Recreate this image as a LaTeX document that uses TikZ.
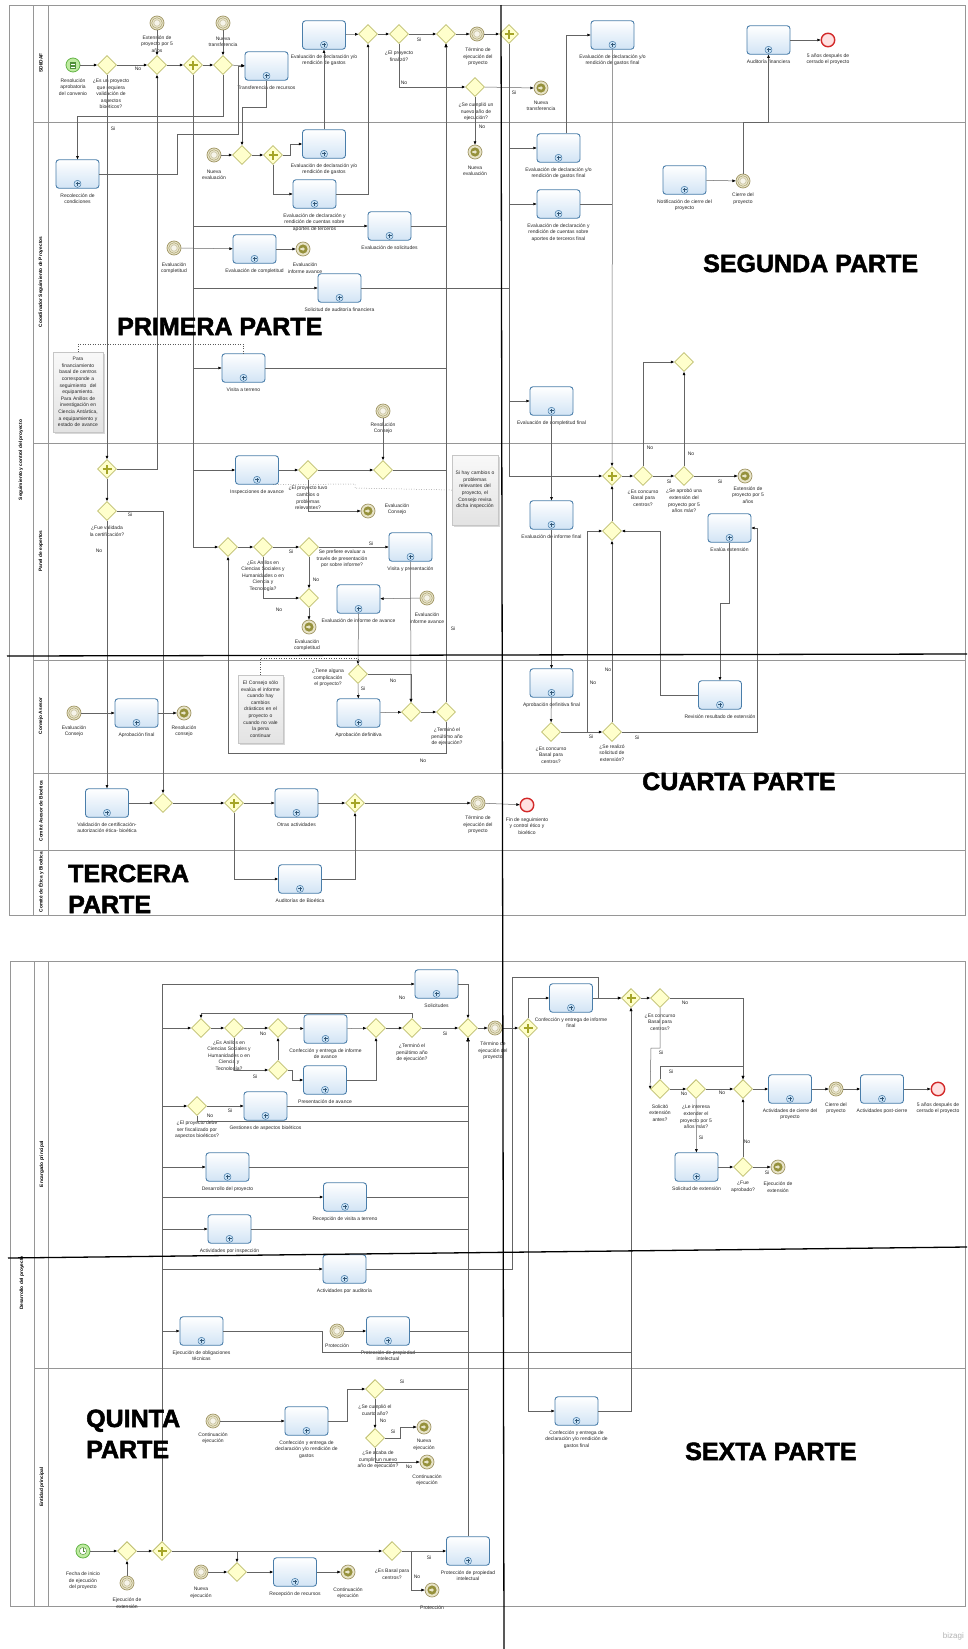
\documentclass[tikz,border=0pt]{standalone}
\usepackage{fontspec}
\setmainfont{Liberation Sans}
\newfontfamily\heavyfont{Liberation Sans}[BoldFeatures={FakeBold=2}]
\usetikzlibrary{shapes.geometric,arrows.meta,calc,shadows}
\definecolor{taskb}{RGB}{74,126,170}
\definecolor{taskf}{RGB}{210,228,245}
\definecolor{markf}{RGB}{200,225,245}
\definecolor{gwb}{RGB}{190,190,110}
\definecolor{gwf}{RGB}{255,255,204}
\definecolor{pgc}{RGB}{165,165,40}
\definecolor{evb}{RGB}{160,150,100}
\definecolor{evf}{RGB}{232,228,200}
\definecolor{evd}{RGB}{150,145,60}
\definecolor{startb}{RGB}{100,180,70}
\definecolor{startf}{RGB}{190,235,160}
\definecolor{endb}{RGB}{210,40,40}
\definecolor{endf}{RGB}{255,225,225}
\definecolor{flowc}{RGB}{100,100,100}
\definecolor{poolc}{RGB}{150,150,150}
\definecolor{lblc}{RGB}{40,40,40}
\newcounter{lbc}
\newcommand\lblfont{\fontsize{5}{6.6}\selectfont}
\newcommand\Lb[3]{\stepcounter{lbc}\node[lbl] (lb\arabic{lbc}) at (#1,#2) {#3};}
\newcommand\Fl[3]{\stepcounter{lbc}\node[flbl] (lb\arabic{lbc}) at (#1,#2) {#3};}
\newcommand\Tk[4]{\node[task] (#1) at (#2,#3) {}; \node[lbl,anchor=north] (#1l) at ($(#1.south)+(0,-4.3pt)$) {#4};}
\newcommand\BigT[3]{\stepcounter{lbc}\node[bigt] (bg\arabic{lbc}) at (#1,#2) {#3};}
\tikzset{
 task/.style={rectangle, rounded corners=3pt, draw=taskb, line width=0.9pt, top color=white, bottom color=taskf, minimum width=43pt, minimum height=28.5pt, inner sep=0pt,
   path picture={\draw[taskb, fill=markf, line width=0.5pt] ($(path picture bounding box.south)+(-3.4pt,1pt)$) rectangle ($(path picture bounding box.south)+(3.4pt,7.8pt)$);
   \draw[taskb!70!black, line width=0.8pt] ($(path picture bounding box.south)+(-2pt,4.4pt)$) -- ++(4pt,0) ($(path picture bounding box.south)+(0,2.4pt)$) -- ++(0,4pt);}},
 gw/.style={diamond, aspect=1, draw=gwb, fill=gwf, line width=0.8pt, minimum width=19pt, minimum height=19pt, inner sep=0pt},
 pgw/.style={gw, path picture={\draw[pgc, line width=1.8pt] ($(path picture bounding box.center)+(-4.5pt,0)$) -- ++(9pt,0) ($(path picture bounding box.center)+(0,-4.5pt)$) -- ++(0,9pt);}},
 startev/.style={circle, draw=startb, fill=startf, line width=0.8pt, minimum size=14pt, inner sep=0pt},
 condstart/.style={startev, path picture={\draw[startb!80!black, fill=white, line width=0.4pt] ($(path picture bounding box.center)+(-2.6pt,-3.2pt)$) rectangle ($(path picture bounding box.center)+(2.6pt,3.2pt)$);
   \foreach \k in {-1.6,0,1.6} {\draw[startb!80!black, line width=0.35pt] ($(path picture bounding box.center)+(-1.7pt,\k pt)$) -- ++(3.4pt,0);}}},
 timerstart/.style={startev, path picture={\draw[startb!80!black, fill=white, line width=0.4pt] (path picture bounding box.center) circle (3.6pt);
   \draw[startb!80!black, line width=0.4pt] (path picture bounding box.center) -- ++(0,2.6pt) (path picture bounding box.center) -- ++(1.8pt,0);}},
 endev/.style={circle, draw=endb, fill=endf, line width=1.4pt, minimum size=13.5pt, inner sep=0pt},
 catchev/.style={circle, draw=evb, fill=evf, line width=0.7pt, minimum size=14pt, inner sep=0pt,
   path picture={\draw[evb, line width=0.4pt] (path picture bounding box.center) circle (5.3pt);
   \draw[evb!80, fill=white!60!evf, line width=0.3pt] (path picture bounding box.center) circle (3.2pt);}},
 throwev/.style={circle, draw=evb, fill=evf, line width=0.7pt, minimum size=14pt, inner sep=0pt,
   path picture={\fill[evd] (path picture bounding box.center) circle (4.6pt);
   \fill[evf] ($(path picture bounding box.center)+(-2.6pt,0.9pt)$) -- ++(2.2pt,0) -- ++(0,1.2pt) -- ++(2.4pt,-2.1pt) -- ++(-2.4pt,-2.1pt) -- ++(0,1.2pt) -- ++(-2.2pt,0) -- cycle;}},
 flow/.style={draw=flowc, line width=0.5pt, -{Triangle[length=3.2pt, width=2.6pt, color=black]}},
 flowline/.style={draw=flowc, line width=0.5pt},
 assoc/.style={draw=gray!70!black, line width=0.5pt, dotted},
 lbl/.style={font=\lblfont, text=lblc, align=center, inner sep=0.3pt},
 flbl/.style={font=\lblfont, text=lblc, inner sep=0.3pt},
 plbl/.style={font=\fontsize{4.8}{5.5}\selectfont\bfseries, text=black, inner sep=0pt, rotate=90},
 annot/.style={rectangle, draw=gray!45, top color=gray!5, bottom color=gray!22, drop shadow={opacity=0.3, shadow xshift=1.5pt, shadow yshift=-1.5pt}, font=\lblfont, text=lblc, align=center, inner sep=1pt},
 bigt/.style={font=\fontsize{25}{25}\selectfont\heavyfont\bfseries, inner sep=0pt, anchor=base west, text=black},
}
\begin{document}
\begin{tikzpicture}[x=1pt,y=-1pt]
\useasboundingbox (0,0) rectangle (967,1649);
\fill[white] (0,0) rectangle (967,1649);
% ---------- pools and lanes
\draw[poolc, line width=0.7pt] (9,5) rectangle (965,915);
\draw[poolc, line width=0.6pt] (33,5) -- (33,915) (48,5) -- (48,915);
\draw[poolc, line width=0.6pt] (33,122) -- (965,122) (33,443) -- (965,443) (33,660) -- (965,660) (33,773) -- (965,773) (33,850) -- (965,850);
\node[plbl] (pl1) at (21,460) {Seguimiento y control del proyecto};
\node[plbl] (ln1) at (41,63) {SDI/DAF};
\node[plbl] (ln2) at (41,282) {Coordinador Seguimiento de Proyectos};
\node[plbl] (ln3) at (41,551) {Panel de expertos};
\node[plbl] (ln4) at (41,716) {Consejo Asesor};
\node[plbl] (ln5) at (41,811) {Comité Asesor de Bioética};
\node[plbl] (ln6) at (41,882) {Comité de Ética y Bioética};
\draw[poolc, line width=0.7pt] (10,961) rectangle (965,1606);
\draw[poolc, line width=0.6pt] (34,961) -- (34,1606) (48,961) -- (48,1606) (34,1368) -- (965,1368);
\node[plbl] (pl2) at (22,1283) {Desarrollo del proyecto};
\node[plbl] (ln7) at (42,1164) {Encargado principal};
\node[plbl] (ln8) at (42,1487) {Entidad principal};
% ---------- SDI/DAF
\node[condstart] (s1) at (73,65) {};
\Lb{73}{87}{Resolución\\aprobatoria\\del convenio}
\node[gw] (g1) at (107,65) {};
\Lb{111}{94}{¿Es un proyecto\\que requiera\\validación de\\aspectos\\bioéticos?}
\node[catchev] (e1) at (157,23) {};
\Lb{157}{44}{Extensión de\\proyecto por 5\\años}
\node[gw] (g2) at (157,65) {};
\node[pgw] (p1) at (193,65) {};
\node[catchev] (e2) at (223,23) {};
\Lb{223}{42}{Nueva\\transferencia}
\node[gw] (g3) at (223,65) {};
\Tk{t1}{266.5}{66}{Transferencia de recursos}
\Tk{t2}{324}{35}{Evaluación de declaración y/o\\rendición de gastos}
\node[gw] (g4) at (368,34) {};
\node[gw] (g5) at (399,34) {};
\Lb{399}{56}{¿El proyecto\\finalizó?}
\node[gw] (g6) at (446,34) {};
\node[catchev] (e3) at (477,34) {};
\Lb{478}{57}{Término de\\ejecución del\\proyecto}
\node[gw] (g7) at (475,87) {};
\Lb{476}{112}{¿Se cumplió un\\nuevo año de\\ejecución?}
\node[throwev] (e4) at (475,152) {};
\Lb{475}{171}{Nueva\\evaluación}
% ---------- Coordinador
\Tk{t3}{77.5}{174}{Recolección de\\condiciones}
\node[catchev] (e5) at (214,155) {};
\Lb{214}{175}{Nueva\\evaluación}
\node[gw] (g8) at (242,155) {};
\node[pgw] (p3) at (273,155) {};
\Tk{t4}{324}{144}{Evaluación de declaración y/o\\rendición de gastos}
\Tk{t5}{314.5}{194}{Evaluación de declaración y\\rendición de cuentas sobre\\aportes de terceros}
\Tk{t6}{389.5}{226}{Evaluación de solicitudes}
\node[catchev] (e6) at (174,248) {};
\Lb{174}{268}{Evaluación\\completitud}
\Tk{t7}{254.5}{249}{Evaluación de completitud}
\node[throwev] (e7) at (303,249) {};
\Lb{305}{268}{Evaluación\\informe avance}
\Tk{t8}{339.5}{288}{Solicitud de auditoría financiera}
\node[annot, minimum width=50pt, minimum height=80pt, text width=48pt] (a1) at (78,392) {Para\\financiamiento\\basal de centros\\corresponde a\\seguimiento\ \ del\\equipamiento.\\Para Anillos de\\investigación en\\Ciencia Antártica,\\a equipamiento y\\estado de avance};
\Tk{t9}{243.5}{368}{Visita a terreno}
\node[catchev] (e8) at (383,411) {};
\Lb{383}{428}{Resolución\\Consejo}
% ---------- Panel de expertos
\node[pgw] (p2) at (107,469) {};
\node[gw] (g11) at (107,511) {};
\Lb{107}{531}{¿Fue validada\\la certificación?}
\Tk{t10}{257}{470}{Inspecciones de avance}
\node[gw] (g10) at (308,470) {};
\Lb{308}{498}{¿El proyecto tuvo\\cambios o\\problemas\\relevantes?}
\node[gw] (g9) at (383,470) {};
\node[throwev] (e9) at (368,511) {};
\Lb{397}{509}{Evaluación\\Consejo}
\node[annot, minimum width=46pt, minimum height=70pt, text width=44pt] (a2) at (475,490) {Si hay cambios o\\problemas\\relevantes del\\proyecto, el\\Consejo revisa\\dicha inspección};
\node[gw] (g12) at (228,547) {};
\node[gw] (g13) at (263,547) {};
\Lb{263}{576}{¿Es Anillos en\\Ciencias Sociales y\\Humanidades o en\\Ciencia y\\Tecnología?}
\node[gw] (g14) at (309,547) {};
\Lb{342}{559}{Se prefiere evaluar a\\través de presentación\\por sobre informe?}
\Tk{t11}{410.5}{547}{Visita y presentación}
\node[gw] (g15) at (309,598) {};
\node[throwev] (e10) at (309,627) {};
\Lb{307}{645}{Evaluación\\completitud}
\Tk{t12}{358.5}{599}{Evaluación de informe de avance}
\node[catchev] (e11) at (427,598) {};
\Lb{427}{618}{Evaluación\\informe avance}
% ---------- Consejo Asesor
\node[catchev] (e12) at (74,713) {};
\Lb{74}{731}{Evaluación\\Consejo}
\Tk{t13}{136.5}{713}{Aprobación final}
\node[throwev] (e13) at (184,713) {};
\Lb{184}{731}{Resolución\\consejo}
\node[annot, minimum width=45pt, minimum height=68pt, text width=43pt] (a3) at (260.5,709) {El Consejo sólo\\evalúa el informe\\cuando hay\\cambios\\drásticos en el\\proyecto o\\cuando no vale\\la pena\\continuar};
\node[gw] (g16) at (358,674) {};
\Lb{328}{678}{¿Tiene alguna\\complicación\\el proyecto?}
\Tk{t14}{358.5}{713}{Aprobación definitiva}
\node[gw] (g18) at (411,712) {};
\node[gw] (g19) at (446,712) {};
\Lb{447}{737}{¿Terminó el\\penúltimo año\\de ejecución?}
% ---------- Comite Asesor de Bioetica
\Tk{t15}{107}{803}{Validación de certificación-\\autorización ética- bioética}
\node[gw] (g20) at (163,803) {};
\node[pgw] (p4) at (234,803) {};
\Tk{t16}{296.5}{803}{Otras actividades}
\node[pgw] (p5) at (355,803) {};
\node[catchev] (e14) at (478,803) {};
\Lb{478}{825}{Término de\\ejecución del\\proyecto}
\node[endev] (e15) at (527,805) {};
\Lb{527}{826}{Fin de seguimiento\\y control ético y\\bioético}
\Tk{t17}{300}{879}{Auditorías de Bioética}
% ---------- right part top pool
\node[pgw] (p6) at (509,34) {};
\node[throwev] (e16) at (541,88) {};
\Lb{541}{106}{Nueva\\transferencia}
\Tk{t18}{612.5}{35}{Evaluación de declaración y/o\\rendición de gastos final}
\Tk{t19}{558.5}{148}{Evaluación de declaración y/o\\rendición de gastos final}
\Tk{t20}{558.5}{204}{Evaluación de declaración y\\rendición de cuentas sobre\\aportes de terceros final}
\Tk{t21}{768.5}{40}{Auditoría financiera}
\node[endev] (e17) at (828,40) {};
\Lb{828}{59}{5 años después de\\cerrado el proyecto}
\Tk{t22}{684.5}{180}{Notificación de cierre del\\proyecto}
\node[catchev] (e18) at (743,181) {};
\Lb{743}{199}{Cierre del\\proyecto}
\Tk{t23}{551.5}{401}{Evaluación de completitud final}
\node[pgw] (p7) at (612,476) {};
\node[gw] (g24) at (643,476) {};
\Lb{643}{498}{¿Es concurso\\Basal para\\centros?}
\node[gw] (g25) at (684,362) {};
\node[gw] (g26) at (684,476) {};
\Lb{684}{501}{¿Se aprobó una\\extensión del\\proyecto por 5\\años más?}
\node[throwev] (e19) at (745,476) {};
\Lb{748}{495}{Extensión de\\proyecto por 5\\años}
\Tk{t24}{551.5}{515}{Evaluación de informe final}
\node[gw] (g23) at (612,531) {};
\Tk{t25}{729.5}{528}{Evalúa extensión}
\Tk{t26}{551.5}{683}{Aprobación definitiva final}
\node[gw] (g21) at (551,732) {};
\Lb{551}{755}{¿Es concurso\\Basal para\\centros?}
\node[gw] (g22) at (612,732) {};
\Lb{612}{753}{¿Se realizó\\solicitud de\\extensión?}
\Tk{t27}{720}{695}{Revisión resultado de extensión}
% ---------- Encargado principal
\node[pgw] (p8) at (162,1551) {};
\Tk{t28}{436.5}{984}{Solicitudes}
\node[gw] (g27) at (201,1028) {};
\node[gw] (g28) at (234,1028) {};
\Lb{229}{1056}{¿Es Anillos en\\Ciencias Sociales y\\Humanidades o en\\Ciencia y\\Tecnología?}
\node[gw] (g29) at (278,1028) {};
\Tk{t29}{325.5}{1029}{Confección y entrega de informe\\de avance}
\node[gw] (g31) at (376,1028) {};
\node[gw] (g32) at (412,1028) {};
\Lb{412}{1053}{¿Terminó el\\penúltimo año\\de ejecución?}
\node[gw] (g30) at (468,1028) {};
\node[gw] (g33) at (278,1070) {};
\Tk{t30}{325}{1080}{Presentación de avance}
\node[catchev] (e20) at (495,1028) {};
\Lb{493}{1051}{Término de\\ejecución del\\proyecto}
\node[pgw] (p9) at (528,1028) {};
\Tk{t31}{571}{998}{Confección y entrega de informe\\final}
\node[pgw] (p10) at (631,998) {};
\node[gw] (g34) at (660,998) {};
\Lb{660}{1022}{¿Es concurso\\Basal para\\centros?}
\node[gw] (g36) at (660,1089) {};
\Lb{660}{1113}{Solicitó\\extensión\\antes?}
\node[gw] (g37) at (696,1089) {};
\Lb{696}{1117}{¿Le interesa\\extender el\\proyecto por 5\\años más?}
\node[gw] (g35) at (743,1089) {};
\Tk{t33}{696.5}{1167}{Solicitud de extensión}
\node[gw] (g38) at (743,1167) {};
\Lb{743}{1187}{¿Fue\\aprobado?}
\node[throwev] (e21) at (778,1167) {};
\Lb{778}{1187}{Ejecución de\\extensión}
\Tk{t34}{790}{1089}{Actividades de cierre del\\proyecto}
\node[catchev] (e22) at (836,1089) {};
\Lb{836}{1108}{Cierre del\\proyecto}
\Tk{t35}{882}{1089}{Actividades post-cierre}
\node[endev] (e23) at (938,1089) {};
\Lb{938}{1108}{5 años después de\\cerrado el proyecto}
\node[gw] (g39) at (197,1106) {};
\Lb{197}{1130}{¿El proyecto debe\\ser fiscalizado por\\aspectos bioéticos?}
\Tk{t36}{265.5}{1106}{Gestiones de aspectos bioéticos}
\Tk{t37}{227.5}{1167}{Desarrollo del proyecto}
\Tk{t38}{345}{1197}{Recepción de visita a terreno}
\Tk{t39}{229.5}{1229}{Actividades por inspección}
\Tk{t40}{344.5}{1269}{Actividades por auditoría}
\Tk{t41}{201.5}{1331}{Ejecución de obligaciones\\técnicas}
\node[catchev] (e24) at (337,1331) {};
\Lb{337}{1346}{Protección}
\Tk{t42}{388}{1331}{Protección de propiedad\\intelectual}
% ---------- Entidad principal
\node[catchev] (e25) at (213,1421) {};
\Lb{213}{1438}{Continuación\\ejecución}
\Tk{t43}{306.5}{1421}{Confección y entrega de\\declaración y/o rendición de\\gastos}
\node[gw] (g40) at (375,1389) {};
\Lb{375}{1410}{¿Se cumplió el\\cuarto año?}
\node[gw] (g41) at (375,1438) {};
\Lb{378}{1460}{¿Se acaba de\\cumplir un nuevo\\año de ejecución?}
\node[throwev] (e26) at (424,1427) {};
\Lb{424}{1445}{Nueva\\ejecución}
\node[throwev] (e27) at (427,1462) {};
\Lb{427}{1480}{Continuación\\ejecución}
\node[timerstart] (s2) at (83,1551) {};
\Lb{83}{1581}{Fecha de inicio\\de ejecución\\del proyecto}
\node[gw] (g42) at (127,1551) {};
\node[catchev] (e28) at (127,1583) {};
\Lb{127}{1603}{Ejecución de\\extensión}
\node[catchev] (e29) at (201,1572) {};
\Lb{201}{1593}{Nueva\\ejecución}
\node[gw] (g44) at (237,1572) {};
\Tk{t44}{295}{1572}{Recepción de recursos}
\node[throwev] (e30) at (348,1572) {};
\Lb{348}{1593}{Continuación\\ejecución}
\node[gw] (g43) at (392,1551) {};
\Lb{392}{1574}{¿Es Basal para\\centros?}
\Tk{t45}{468}{1551}{Protección de propiedad\\intelectual}
\node[throwev] (e31) at (432,1590) {};
\Lb{432}{1608}{Protección}
\Tk{t32}{576.5}{1411}{Confección y entrega de\\declaración y/o rendición de\\gastos final}
% ---------- flows top-left
\draw[flow] (s1) -- (g1);
\draw[flow] (g1) -- (g2);
\draw[flow] (e1) -- (g2);
\draw[flow] (g2) -- (p1);
\draw[flow] (p1) -- (g3);
\draw[flow] (e2) -- (g3);
\draw[flow] (g3) -- (t1);
\draw[flow] (g3.south) -- (223,116) -| (t3.north);
\draw[flow] (t3.east) -- (177,174) -- (177,134) -- (238,134) |- (t1.west);
\draw[flow] (t1.south) -- (266.5,107) -| (g8.north);
\draw[flow] (e5) -- (g8);
\draw[flow] (g8) -- (p3);
\draw[flow] (p3.east) -- (290,155) |- (t4.west);
\draw[flow] (p3.south) |- (t5.west);
\draw[flow] (t4.north) -- (t2.south);
\draw[flow] (t5.east) -| (g4.south);
\draw[flow] (t2) -- (g4);
\draw[flow] (g4) -- (g5);
\draw[flow] (g5) -- (g6);
\draw[flow] (g6) -- (e3);
\draw[flow] (g5.south) |- (g7.west);
\draw[flow] (g7.south) -- (e4.north);
\draw[flow] (g7.east) -- (e16.west);
\draw[flow] (p1.south) |- (t6.west);
\draw[flow] (p1.south) |- (t8.west);
\draw[flow] (p1.south) |- (t9.west);
\draw[flow] (p1.south) |- (t10.west);
\draw[flow] (p1.south) |- (g12.west);
\draw[flow] (t6.east) -| (g6.south);
\draw[flow] (t9.east) -| (g6.south);
\draw[flow] (g9.east) -| (g6.south);
\draw[flow] (g19.north) -- (g6.south);
\draw[flowline] (t8.east) -- (t8.east -| p6.south);
\draw[flow] (e6) -- (t7);
\draw[flow] (t7) -- (e7);
\draw[flow] (g1.south) -- (p2.north);
\draw[flow] (p2.east) -| (g2.south);
\draw[flow] (p2.south) -- (g11.north);
\draw[flow] (g11.east) -| (g20.north);
\draw[flow] (g11.south) -- (t15.north);
\draw[flow] (t15) -- (g20);
\draw[flow] (g20) -- (p4);
\draw[flow] (p4) -- (t16);
\draw[flow] (t16) -- (p5);
\draw[flow] (p4.south) |- (t17.west);
\draw[flow] (t17.east) -| (p5.south);
\draw[flow] (p5) -- (e14);
\draw[flow] (e14) -- (e15);
\draw[flow] (e12) -- (t13);
\draw[flow] (t13) -- (e13);
\draw[flow] (t10) -- (g10);
\draw[flow] (g10) -- (g9);
\draw[flow] (e8) -- (g9);
\draw[flow] (g10.south) |- (e9.west);
\draw[flow] (g12) -- (g13);
\draw[flow] (g13) -- (g14);
\draw[flow] (g14) -- (t11);
\draw[flow] (g14) -- (g15);
\draw[flow] (g13.south) |- (g15.west);
\draw[flow] (g15) -- (e10);
\draw[flow] (e11) -- (t12);
\draw[flow] (t12.south) -- (g16.north);
\draw[flow] (t11.south) -- (g18.north);
\draw[flow] (g16.east) -| (g18.north);
\draw[flow] (g16) -- (t14);
\draw[flow] (t14) -- (g18);
\draw[flow] (g18) -- (g19);
\draw[flow] (g19.south) -- (446,753) -| (g12.south);
\draw[assoc] (a1.north) -- (78,344) -| (t9.north);
\draw[assoc] ([xshift=16pt]t10.south) -- (355,484) -- (355,488) -- (a2.west);
\draw[assoc] (a3.north) -- (260.5,658) -| (g16.north);
% ---------- flows top-right
\draw[flow] (e3) -- (p6);
\draw[flow] (p6.south) |- (t19.west);
\draw[flow] (p6.south) |- (t20.west);
\draw[flow] (p6.south) |- (t23.west);
\draw[flow] (p6.south) |- (p7.west);
\draw[flow] ([xshift=8pt]t19.north) |- (t18.west);
\draw[flow] (t18.south) -- (p7.north);
\draw[flowline] (t20.east) -- (t20.east -| p7.north);
\draw[flow] (t21) -- (e17);
\draw[flow] (t22) -- (e18);
\draw[flow] (e18.north) -- (743,122) -| (t21.south);
\draw[flow] (t23) -- (t24);
\draw[flow] (t24) -- (t26);
\draw[flow] (t26) -- (g21);
\draw[flow] (g21) -- (g22);
\draw[flow] (g21.east) -- (587,732) |- (g23.west);
\draw[flow] (g22) -- (g23);
\draw[flow] (g22.east) -- (757,732) |- (t25.east);
\draw[flow] (t25.south) -- (729.5,603) -- (720,603) -- (t27.north);
\draw[flow] (t27.west) -- (660,695) |- (g23.east);
\draw[flow] (g23) -- (p7);
\draw[flow] (p7) -- (g24);
\draw[flow] (g24) -- (g26);
\draw[flow] (g24.north) |- (g25.west);
\draw[flow] (g26) -- (g25);
\draw[flow] (g26) -- (e19);
% ---------- flows bottom
\draw[flow] (p8.north) |- (t28.west);
\draw[flow] (p8.north) |- (g27.west);
\draw[flow] (p8.north) |- (g39.west);
\draw[flow] (p8.north) |- (t37.west);
\draw[flow] (p8.north) |- (t38.west);
\draw[flow] (p8.north) |- (t39.west);
\draw[flow] (p8.north) |- (t40.west);
\draw[flow] (p8.north) |- (t41.west);
\draw[flow] (g27) -- (g28);
\draw[flow] (g28) -- (g29);
\draw[flow] (g29) -- (t29);
\draw[flow] (t29) -- (g31);
\draw[flow] (g31) -- (g32);
\draw[flow] (g32) -- (g30);
\draw[flow] (g30) -- (e20);
\draw[flow] (e20) -- (p9);
\draw[flow] (g32.north) -- (412,1013) -| (g27.north);
\draw[flow] (g28.south) |- (g33.west);
\draw[flow] (g33) -- (g29);
\draw[flow] (g33.east) -- (292,1070) |- (t30.west);
\draw[flow] (t30.east) -| (g31.south);
\draw[flow] (t28.east) -| (g30.north);
\draw[flow] (g39) -- (t36);
\draw[flow] (t36.east) -| (g30.south);
\draw[flow] (g39.south) -- (197,1121) -| (g30.south);
\draw[flow] (t37.east) -| (g30.south);
\draw[flow] (t38.east) -| (g30.south);
\draw[flow] (t39.east) -| (g30.south);
\draw[flow] (t40.east) -- (512,1269) -- (512,977) -- (598,977) |- (p10.west);
\draw[flow] (t41.east) -- (322,1331) -- (322,1352) -| (p10.south);
\draw[flow] (e24) -- (t42);
\draw[flow] (t42.east) -| (g30.south);
\draw[flow] (g40.east) -| (g30.south);
\draw[flow] (t45.north) -- (g30.south);
\draw[flow] (p9.north) |- (t31.west);
\draw[flow] (t31) -- (p10);
\draw[flow] (p9.south) |- (t32.west);
\draw[flow] (t32.east) -| (p10.south);
\draw[flow] (p10) -- (g34);
\draw[flow] (g34.east) -| (g35.north);
\draw[flow] (g34.south) -- (660,1048) -- (651,1048) -- (g36.west);
\draw[flow] (g36.north) |- (743,1066) -- (g35.north);
\draw[flow] (g36) -- (g37);
\draw[flow] (g37) -- (g35);
\draw[flow] (g37) -- (t33);
\draw[flow] (t33) -- (g38);
\draw[flow] (g38) -- (g35);
\draw[flow] (g38) -- (e21);
\draw[flow] (g35) -- (t34);
\draw[flow] (t34) -- (e22);
\draw[flow] (e22) -- (t35);
\draw[flow] (t35) -- (e23);
\draw[flow] (e25) -- (t43);
\draw[flow] (t43.east) -- (347,1421) |- (g40.west);
\draw[flow] (g40) -- (g41);
\draw[flow] (g41.east) -- (400,1438) |- (e26.west);
\draw[flow] (g41.south) |- (e27.west);
\draw[flow] (s2) -- (g42);
\draw[flow] (e28) -- (g42);
\draw[flow] (g42) -- (p8);
\draw[flow] (p8.east) -- (g43.west);
\draw[flow] (p8.east) -| (g44.north);
\draw[flow] (e29) -- (g44);
\draw[flow] (g44) -- (t44);
\draw[flow] (t44) -- (e30);
\draw[flow] (g43.east) -- (t45.west);
\draw[flow] (g43.east) -- (411,1551) |- (e31.west);
% ---------- flow labels
\Fl{138}{69}{No}\Fl{113}{129}{Si}\Fl{419}{40}{Si}\Fl{404}{83}{No}\Fl{482}{127}{No}\Fl{514}{93}{Si}
\Fl{130}{515}{Si}\Fl{99}{551}{No}\Fl{291}{552}{Si}\Fl{371}{544}{Si}\Fl{316}{580}{No}\Fl{279}{610}{No}\Fl{453}{629}{Si}
\Fl{363}{689}{Si}\Fl{393}{681}{No}\Fl{423}{761}{No}
\Fl{650}{448}{No}\Fl{669}{482}{Si}\Fl{691}{454}{No}\Fl{720}{482}{Si}\Fl{593}{683}{No}\Fl{608}{670}{No}\Fl{591}{737}{Si}\Fl{637}{738}{Si}
\Fl{263}{1034}{No}\Fl{255}{1077}{Si}\Fl{445}{1034}{Si}\Fl{402}{998}{No}\Fl{230}{1111}{Si}\Fl{210}{1116}{No}
\Fl{685}{1003}{No}\Fl{661}{1053}{Si}\Fl{671}{1072}{Si}\Fl{684}{1094}{No}\Fl{722}{1093}{No}\Fl{701}{1138}{Si}\Fl{747}{1142}{No}\Fl{767}{1173}{Si}
\Fl{402}{1382}{Si}\Fl{383}{1421}{No}\Fl{393}{1432}{Si}\Fl{409}{1467}{No}\Fl{429}{1558}{Si}\Fl{417}{1577}{No}
% ---------- big titles
\BigT{117}{335}{PRIMERA PARTE}
\BigT{703}{272}{SEGUNDA PARTE}
\BigT{68}{882}{TERCERA}
\BigT{68}{913}{PARTE}
\BigT{642}{790}{CUARTA PARTE}
\BigT{86}{1427}{QUINTA}
\BigT{86}{1458}{PARTE}
\BigT{685}{1460}{SEXTA PARTE}
\node[font=\fontsize{8}{8}\selectfont, text=gray!60, anchor=base east, inner sep=0pt] (logo) at (964,1638) {bizagi};
% ---------- thick divider lines
\draw[black, line width=1.3pt] (501,5) -- (504,1649);
\draw[black, line width=1.3pt] (7,656) -- (967,654);
\draw[black, line width=1.3pt] (8,1258) -- (967,1247);
\end{tikzpicture}
\end{document}
